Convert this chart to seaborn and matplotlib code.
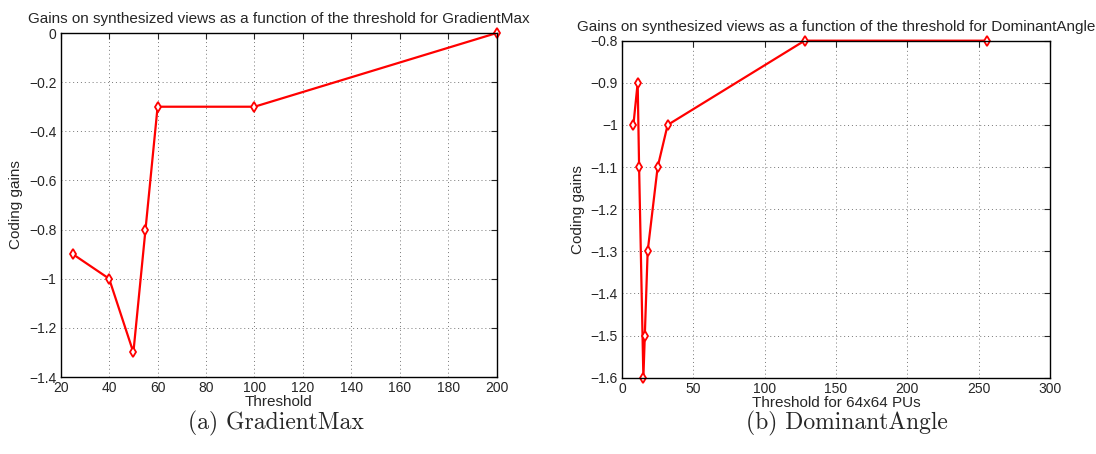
import numpy as np
import pandas as pd
import matplotlib
matplotlib.use("Agg")
import matplotlib.pyplot as plt
import seaborn as sns
from matplotlib.ticker import FuncFormatter

# data
gm_threshold = [25, 40, 50, 55, 60, 100, 200]
gm_gains = [-0.9, -1.0, -1.3, -0.8, -0.3, -0.3, 0.0]

da_threshold = [8, 11, 12, 15, 16, 18, 25, 32, 128, 256]
da_gains = [-1.0, -0.9, -1.1, -1.6, -1.5, -1.3, -1.1, -1.0, -0.8, -0.8]

gm_xticks = [20, 40, 60, 80, 100, 120, 140, 160, 180, 200]
gm_yticks = [0, -0.2, -0.4, -0.6, -0.8, -1.0, -1.2, -1.4]
da_xticks = [0, 50, 100, 150, 200, 250, 300]
da_yticks = [-0.8, -0.9, -1.0, -1.1, -1.2, -1.3, -1.4, -1.5, -1.6]

sns.set_style("white")
plt.rcParams['font.family'] = ['Liberation Sans', 'DejaVu Sans']

fig = plt.figure(figsize=(10.96, 4.54), dpi=100)
ax1 = fig.add_axes([0.0554, 0.1696, 0.3978, 0.7577])
ax2 = fig.add_axes([0.5675, 0.168, 0.3905, 0.7424])

fmt = FuncFormatter(lambda v, p: ("%g" % round(v, 2)).replace("-", "\u2212"))


def style_axis(ax, xticks, yticks, xlim, ylim):
    ax.set_xlim(xlim)
    ax.set_ylim(ylim)
    ax.set_xticks(xticks)
    ax.set_yticks(yticks)
    ax.xaxis.set_major_formatter(fmt)
    ax.yaxis.set_major_formatter(fmt)
    ax.tick_params(direction="in", length=4, width=0.8, labelsize=10,
                   top=True, right=True, pad=3)
    ax.grid(True, linestyle=(0, (1, 3)), color="#777777", linewidth=0.7)
    for s in ax.spines.values():
        s.set_color("black")
        s.set_linewidth(1.0)


line_kw = dict(color="red", marker="d", markersize=5, markerfacecolor="white",
               markeredgecolor="red", markeredgewidth=1.3, linewidth=1.6,
               sort=False, estimator=None, clip_on=False)

#left chart
df1 = pd.DataFrame({"Threshold": gm_threshold, "Coding gains": gm_gains})
sns.lineplot(data=df1, x="Threshold", y="Coding gains", ax=ax1, **line_kw)
style_axis(ax1, gm_xticks, gm_yticks, (20, 200), (-1.4, 0))
ax1.set_title("Gains on synthesized views as a function of the threshold for GradientMax",
              fontsize=11, pad=7)
ax1.set_xlabel("Threshold", fontsize=11, labelpad=0)
ax1.set_ylabel("Coding gains", fontsize=11, labelpad=4)

#right chart
df2 = pd.DataFrame({"Threshold for 64x64 PUs": da_threshold, "Coding gains": da_gains})
sns.lineplot(data=df2, x="Threshold for 64x64 PUs", y="Coding gains", ax=ax2, **line_kw)
style_axis(ax2, da_xticks, da_yticks, (0, 300), (-1.6, -0.8))
ax2.set_title("Gains on synthesized views as a function of the threshold for DominantAngle",
              fontsize=11, pad=7)
ax2.set_xlabel("Threshold for 64x64 PUs", fontsize=11, labelpad=0)
ax2.set_ylabel("Coding gains", fontsize=11, labelpad=4)

#captions
fig.text(0.252, 0.068, "(a) GradientMax", ha="center", va="center",
         fontsize=17, family="cmr10")
fig.text(0.773, 0.068, "(b) DominantAngle", ha="center", va="center",
         fontsize=17, family="cmr10")

fig.savefig("out.png", dpi=100)
